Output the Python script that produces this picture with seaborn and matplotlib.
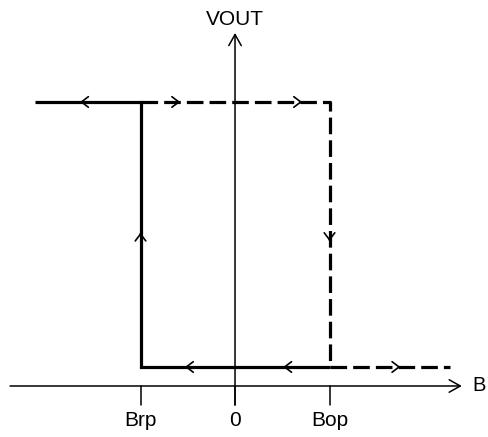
import matplotlib
matplotlib.use("Agg")
import matplotlib.pyplot as plt
import seaborn as sns
import pandas as pd

sns.set_style("white")
plt.rcParams["font.family"] = ["Liberation Sans", "DejaVu Sans"]
plt.rcParams["text.color"] = "black"

# ---- data ----
tick_labels = ["Brp", "0", "Bop"]
tick_values = [-1.0, 0.0, 1.0]
B_brp, B_bop = -1.0, 1.0
V_high, V_low = 1.0, 0.067
B_left, B_right = -2.12, 2.27

solid_x = [B_left, B_brp, B_brp, B_bop]
solid_y = [V_high, V_high, V_low, V_low]
dash1_x = [B_brp, B_bop, B_bop]
dash1_y = [V_high, V_high, V_low]
dash2_x = [B_bop, B_right]
dash2_y = [V_low, V_low]

# arrow markers on the path: (B, V, dx, dy)
arrow_x = [-1.64, -0.58, 0.71, -1.0, 1.0, -0.53, 0.51, 1.75]
arrow_y = [V_high, V_high, V_high, 0.54, 0.51, V_low, V_low, V_low]
arrow_dx = [-1, 1, 1, 0, 0, -1, -1, 1]
arrow_dy = [0, 0, 0, 1, -1, 0, 0, 0]

# ---- figure ----
fig = plt.figure(figsize=(4.88, 4.37), dpi=100)
ax = fig.add_axes([0, 0, 1, 1])
ax.set_axis_off()
ax.set_xlim(-2.487, 2.677)
ax.set_ylim(-0.1796, 1.359)

# axes with arrows
axis_kw = dict(arrowstyle="->,head_length=0.8,head_width=0.45", lw=1.1,
               color="black", shrinkA=0, shrinkB=0, mutation_scale=10)
ax.annotate("", xy=(2.40, 0), xytext=(-2.38, 0), arrowprops=axis_kw,
            annotation_clip=False)
ax.annotate("", xy=(0, 1.243), xytext=(0, -0.067), arrowprops=axis_kw,
            annotation_clip=False)
for tv in tick_values:
    ax.plot([tv, tv], [0, -0.067], color="black", lw=1.1)
for tv, tl in zip(tick_values, tick_labels):
    ax.text(tv, -0.12, tl, ha="center", va="center", fontsize=15,
            color="black")
ax.text(0, 1.289, "VOUT", ha="center", va="center", fontsize=15,
        color="black")
ax.text(2.51, 0, "B", ha="left", va="center", fontsize=14.5,
        color="black")

# paths
sns.lineplot(x=solid_x, y=solid_y, sort=False, estimator=None, color="black",
             lw=2.3, ax=ax, solid_joinstyle="miter", solid_capstyle="butt")
dash_style = (0, (5.2, 1.9))
sns.lineplot(x=dash1_x, y=dash1_y, sort=False, estimator=None, color="black",
             lw=2.3, ax=ax, linestyle=dash_style, dash_capstyle="butt")
sns.lineplot(x=dash2_x, y=dash2_y, sort=False, estimator=None, color="black",
             lw=2.3, ax=ax, linestyle=dash_style, dash_capstyle="butt")

arrow_kw = dict(arrowstyle="->,head_length=0.5,head_width=0.38", lw=1.2,
                color="black", shrinkA=0, shrinkB=0, mutation_scale=10)
for x, y, dx, dy in zip(arrow_x, arrow_y, arrow_dx, arrow_dy):
    ax.annotate("", xy=(x, y), xytext=(x - dx * 0.02, y - dy * 0.006),
                arrowprops=arrow_kw)

fig.savefig("out.png", dpi=100)
